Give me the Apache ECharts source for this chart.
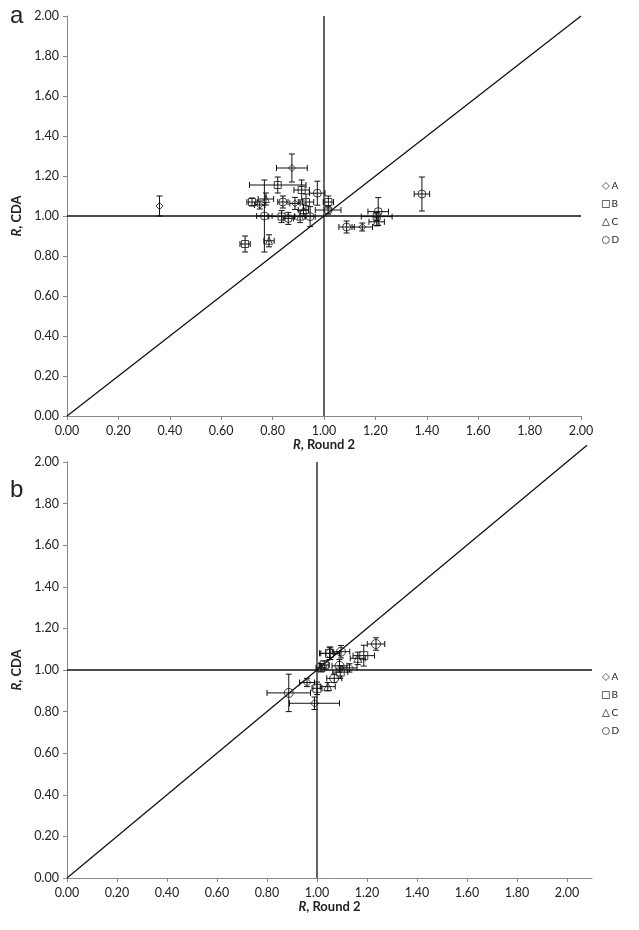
<!DOCTYPE html>
<html><head><meta charset="utf-8">
<script src="https://cdn.jsdelivr.net/npm/echarts@6/dist/echarts.min.js"></script>
<style>html,body{margin:0;padding:0;background:#fff}#c{width:639px;height:930px}</style>
</head><body><div id="c"></div>
<script>
// [x, y, xErr, yErr]
var aSeriesA = [[0.36,1.05,0.0,0.05],[0.875,1.24,0.06,0.07],[1.149,0.945,0.04,0.02],[0.75,1.055,0.02,0.02],[0.887,1.063,0.02,0.03]];
var aSeriesB = [[0.693,0.86,0.02,0.04],[0.82,1.155,0.11,0.04],[0.913,1.13,0.03,0.05],[0.93,1.07,0.03,0.04],[1.017,1.07,0.02,0.03],[0.835,0.997,0.05,0.03],[1.205,0.997,0.06,0.02],[0.72,1.07,0.02,0.02]];
var aSeriesC = [[0.786,0.876,0.02,0.03],[0.774,1.085,0.03,0.03],[0.907,0.997,0.02,0.03],[1.205,0.971,0.03,0.02],[0.92,1.03,0.02,0.03]];
var aSeriesD = [[0.768,1.0,0.03,0.18],[0.974,1.114,0.03,0.06],[1.016,1.03,0.05,0.02],[0.946,0.997,0.02,0.05],[1.211,1.022,0.04,0.07],[1.088,0.945,0.03,0.03],[1.381,1.11,0.03,0.085],[0.861,0.988,0.02,0.03],[0.84,1.07,0.02,0.03]];

var bSeriesA = [[1.13,1.01,0.03,0.02],[0.96,0.94,0.03,0.02],[0.99,0.84,0.1,0.03]];
var bSeriesB = [[1.187,1.069,0.043,0.05],[1.029,1.024,0.02,0.02],[1.093,0.99,0.03,0.03],[1.0,0.912,0.02,0.03],[1.05,1.08,0.04,0.03]];
var bSeriesC = [[1.163,1.056,0.03,0.03],[1.016,1.011,0.02,0.02],[1.043,0.92,0.03,0.02]];
var bSeriesD = [[1.236,1.125,0.035,0.03],[1.096,1.088,0.035,0.03],[1.053,1.08,0.038,0.03],[1.09,1.02,0.03,0.03],[1.069,0.96,0.03,0.02],[0.887,0.89,0.087,0.09]];

var groupNames = ['A','B','C','D'];
var groupSymbols = ['diamond','rect','triangle','circle'];
var aMax = 2.0, bMaxX = 2.1, bMaxY = 2.0;

var chart = echarts.init(document.getElementById('c'));
var FONT = 'Lato';
var ink = '#222';

function xAxisCfg(idx, max){
  return {gridIndex: idx, type:'value', min:0, max:max, interval:0.2,
    axisLine:{onZero:false, lineStyle:{color:'#888', width:1}},
    axisTick:{show:true, length:4, lineStyle:{color:'#888'}},
    splitLine:{show:false},
    axisLabel:{color:ink, fontFamily:FONT, fontSize:12.5, margin:8, showMaxLabel: max<=2.0001,
      formatter:function(v){return v>2.0001?'':v.toFixed(2);}},
    name:'{i|R}{b|, Round 2}', nameLocation:'middle', nameGap:22,
    nameTextStyle:{rich:{i:{fontStyle:'italic',fontWeight:'bold',fontFamily:FONT,fontSize:13,color:ink},b:{fontWeight:'bold',fontFamily:FONT,fontSize:13,color:ink}}}
  };
}
function yAxisCfg(idx, max){
  return {gridIndex: idx, type:'value', min:0, max:max, interval:0.2,
    axisLine:{onZero:false, lineStyle:{color:'#888', width:1}},
    axisTick:{show:true, length:4, lineStyle:{color:'#888'}},
    splitLine:{show:false},
    axisLabel:{color:ink, fontFamily:FONT, fontSize:12.5, margin:8, formatter:function(v){return v.toFixed(2);}},
    name:'{i|R}{b|, CDA}', nameLocation:'middle', nameGap:34, nameRotate:90,
    nameTextStyle:{rich:{i:{fontStyle:'italic',fontWeight:'bold',fontFamily:FONT,fontSize:13,color:ink},b:{fontWeight:'bold',fontFamily:FONT,fontSize:13,color:ink}}}
  };
}

function errRender(params, api){
  var x = api.value(0), y = api.value(1), ex = api.value(2), ey = api.value(3);
  var c = api.coord([x,y]);
  var L = api.coord([x-ex,y]), R = api.coord([x+ex,y]);
  var T = api.coord([x,y+ey]), B = api.coord([x,y-ey]);
  var cap = 3;
  var st = {stroke:'#111', lineWidth:1};
  var ch = [];
  if (ex > 0) {
    ch.push({type:'line', shape:{x1:L[0],y1:c[1],x2:R[0],y2:c[1]}, style:st});
    ch.push({type:'line', shape:{x1:L[0],y1:c[1]-cap,x2:L[0],y2:c[1]+cap}, style:st});
    ch.push({type:'line', shape:{x1:R[0],y1:c[1]-cap,x2:R[0],y2:c[1]+cap}, style:st});
  }
  if (ey > 0) {
    ch.push({type:'line', shape:{x1:c[0],y1:T[1],x2:c[0],y2:B[1]}, style:st});
    ch.push({type:'line', shape:{x1:c[0]-cap,y1:T[1],x2:c[0]+cap,y2:T[1]}, style:st});
    ch.push({type:'line', shape:{x1:c[0]-cap,y1:B[1],x2:c[0]+cap,y2:B[1]}, style:st});
  }
  return {type:'group', children:ch};
}

var series = [];
function refLines(idx, maxX, maxY, diagEnd){
  var ls = {color:'#111', width:1.3};
  series.push({type:'line', xAxisIndex:idx, yAxisIndex:idx, data:[[0,0],[diagEnd,diagEnd]], symbol:'none', lineStyle:ls, clip:false, silent:true, z:1});
  series.push({type:'line', xAxisIndex:idx, yAxisIndex:idx, data:[[1,0],[1,maxY]], symbol:'none', lineStyle:ls, silent:true, z:1});
  series.push({type:'line', xAxisIndex:idx, yAxisIndex:idx, data:[[0,1],[maxX,1]], symbol:'none', lineStyle:ls, silent:true, z:1});
}
refLines(0, aMax, aMax, aMax);
refLines(1, bMaxX, bMaxY, 2.08);

function addGroup(idx, sets, size){
  sets.forEach(function(d, k){
    series.push({type:'custom', xAxisIndex:idx, yAxisIndex:idx, data:d, renderItem:errRender, z:2, silent:true});
    series.push({type:'scatter', name:groupNames[k], xAxisIndex:idx, yAxisIndex:idx, data:d.map(function(p){return [p[0],p[1]];}),
      symbol:groupSymbols[k], symbolSize: k===3 ? size+1 : size,
      itemStyle:{color:'rgba(255,255,255,0)', borderColor:'#111', borderWidth:1}, z:3});
  });
}
addGroup(0, [aSeriesA,aSeriesB,aSeriesC,aSeriesD], 7);
addGroup(1, [bSeriesA,bSeriesB,bSeriesC,bSeriesD], 8);

function legendCfg(top){
  return {orient:'vertical', left:597, top:top, itemGap:8, itemWidth:7, itemHeight:7,
    textStyle:{fontFamily:FONT, fontSize:10, color:ink, padding:[0,0,0,-3]},
    itemStyle:{borderWidth:0.8},
    data:groupNames.map(function(n,k){return {name:n, icon:groupSymbols[k]};}),
    selectedMode:false};
}

chart.setOption({
  animation:false,
  grid:[
    {left:67, top:16, width:514, height:400},
    {left:67, top:462, width:525, height:416}
  ],
  xAxis:[xAxisCfg(0,aMax), xAxisCfg(1,bMaxX)],
  yAxis:[yAxisCfg(0,aMax), yAxisCfg(1,bMaxY)],
  legend:[legendCfg(176), legendCfg(667)],
  graphic:[
    {type:'text', left:10, top:4, style:{text:'a', font:'24px "Liberation Sans"', fill:ink}},
    {type:'text', left:10, top:478, style:{text:'b', font:'24px "Liberation Sans"', fill:ink}}
  ],
  series:series
});
</script></body></html>
